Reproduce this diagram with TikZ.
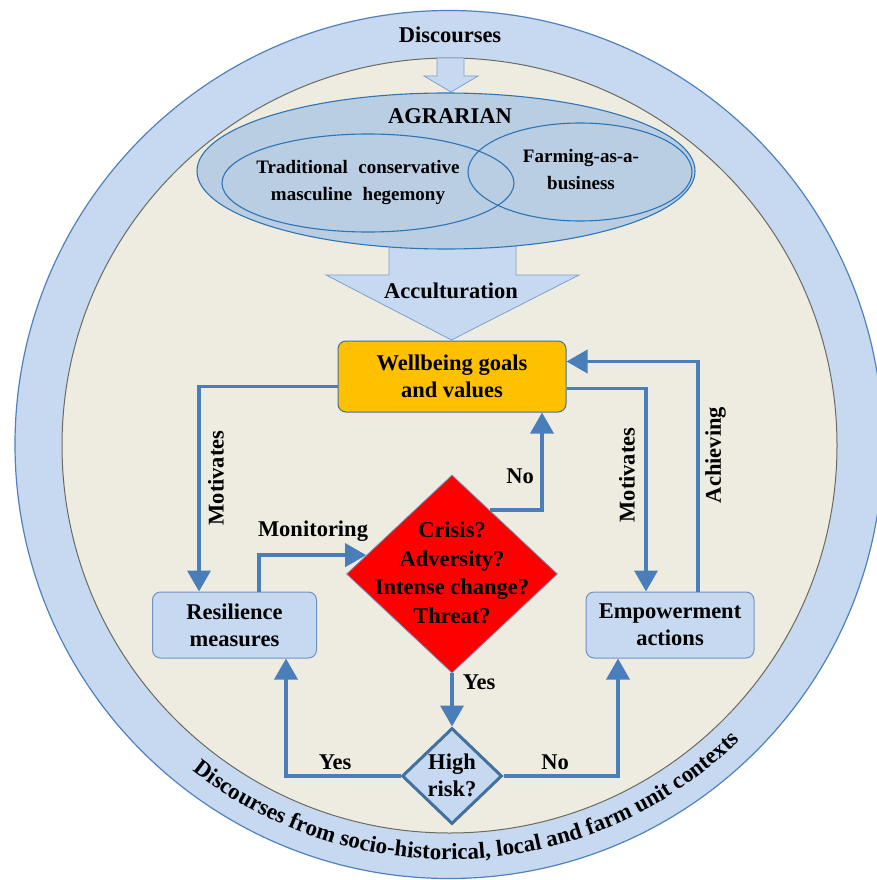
\documentclass[tikz,border=0pt]{standalone}
\usepackage{fontspec}
\setmainfont{Liberation Serif}
\usetikzlibrary{shapes.geometric,arrows.meta,calc,decorations.text}

\definecolor{ringblue}{HTML}{C6D9F1}
\definecolor{ringedge}{HTML}{4F81BD}
\definecolor{beige}{HTML}{EEECE1}
\definecolor{beigeedge}{HTML}{6B6A5E}
\definecolor{ellfill}{HTML}{B9CDE3}
\definecolor{elledge}{HTML}{2E75B6}
\definecolor{arrowedge}{HTML}{7F9FCB}
\definecolor{flowblue}{HTML}{4A7EBB}
\definecolor{wbgold}{HTML}{FFC000}
\definecolor{boxedge}{HTML}{6F93C4}
\definecolor{riskedge}{HTML}{41719C}

\tikzset{
  lbl/.style={font=\fontsize{22.5}{27}\selectfont\bfseries, inner sep=0pt},
  small/.style={font=\fontsize{19}{27}\selectfont\bfseries, inner sep=0pt, align=center},
  box/.style={rounded corners=8pt, draw=boxedge, line width=1pt, fill=ringblue,
    inner sep=0pt, align=center, font=\fontsize{22.5}{27}\selectfont\bfseries},
  flow/.style={draw=flowblue, line width=3.8pt, -{Triangle[width=23pt,length=21pt]}},
  blockarrow/.style={fill=ringblue, draw=arrowedge, line width=0.8pt},
  decision/.style={diamond, inner sep=0pt},
}

\begin{document}
\begin{tikzpicture}[x=1pt,y=-1pt]
\useasboundingbox (0,0) rectangle (877,880);
\clip (0,0) rectangle (877,880);
\fill[white] (0,0) rectangle (877,880);

% outer discourse ring and inner disc
\coordinate (O) at (449,444.5);
\filldraw[fill=ringblue, draw=ringedge, line width=1.2pt] (O) circle[radius=434];
\filldraw[fill=beige, draw=beigeedge, line width=1pt] (449.5,445.5) circle[radius=387.5];

% curved caption in the ring
\path[decorate, decoration={text along path, text align=center,
  text={|\fontsize{23}{23}\selectfont\bfseries|Discourses from socio-historical, local and farm unit contexts}}]
  ($(O)+(136.8:415)$) arc[start angle=136.8, end angle=36.8, radius=415];

\node[lbl] (disc) at (450,35) {Discourses};

% block arrows
\filldraw[blockarrow] (437,58) -- (464,58) -- (464,76) -- (478,76) -- (451,92)
  -- (424,76) -- (437,76) -- cycle;
\filldraw[blockarrow] (389,240) -- (516,240) -- (516,275) -- (579,275) -- (451.5,340)
  -- (326,275) -- (389,275) -- cycle;

% agrarian ellipses
\filldraw[fill=ellfill, draw=elledge, line width=1.1pt] (446,171) ellipse[x radius=249, y radius=78];
\draw[elledge, line width=1.1pt] (368,183) ellipse[x radius=146, y radius=49];
\draw[elledge, line width=1.1pt] (580,172) ellipse[x radius=112, y radius=49];

\node[lbl] (agr) at (450,116) {AGRARIAN};
\node[small] (trad) at (358,183) {Traditional\hspace{0.55em}conservative\\masculine\hspace{0.55em}hegemony};
\node[small] (farm) at (581,170) {Farming-as-a-\\business};
\node[lbl] (acc) at (451,291) {Acculturation};

% flow nodes
\node[box, fill=wbgold, draw=riskedge, minimum width=228pt, minimum height=71pt] (wb) at (452,376.5) {Wellbeing goals\\and values};
\node[box, minimum width=164pt, minimum height=66pt] (res) at (234.5,625) {Resilience\\measures};
\node[box, minimum width=168pt, minimum height=66pt] (emp) at (670,625) {Empowerment\\actions};
\node[decision, fill=red, draw=boxedge, line width=0.8pt, minimum width=211pt, minimum height=198pt] (crisis) at (452,574) {};
\node[lbl, align=center, font=\fontsize{22.5}{28.5}\selectfont\bfseries] (crisistxt) at (452,573) {Crisis?\\Adversity?\\Intense change?\\Threat?};
\node[decision, fill=ringblue, draw=riskedge, line width=3pt, minimum width=100pt, minimum height=96pt] (risk) at (452,776) {};
\node[lbl, align=center] (risktxt) at (452,775.5) {High\\risk?};

% connectors
\draw[flow] ([yshift=-10pt]wb.west) -| ([xshift=-35.5pt]res.north);
\draw[flow] ([yshift=-12pt]wb.east) -| ([xshift=-24pt]emp.north);
\draw[flow] ([xshift=28pt]emp.north) |- ([yshift=15pt]wb.east);
\draw[flow] ($(crisis.north)!0.36!(crisis.east)$) -| ([xshift=90pt]wb.south);
\draw[flow] ([xshift=24.5pt]res.north) |- ($(crisis.west)!0.19!(crisis.north)$);
\draw[flow] (crisis.south) -- (risk.north);
\draw[flow] (risk.west) -| ([xshift=51.5pt]res.south);
\draw[flow] (risk.east) -| ([xshift=-52pt]emp.south);

% connector labels
\node[lbl, rotate=90] (mot1) at (216,478) {Motivates};
\node[lbl, rotate=90] (mot2) at (627,475) {Motivates};
\node[lbl, rotate=90] (ach) at (715.5,455) {Achieving};
\node[lbl] (no1) at (520,476) {No};
\node[lbl] (mon) at (313,531) {Monitoring};
\node[lbl] (yes1) at (479,682.5) {Yes};
\node[lbl] (yes2) at (335,762) {Yes};
\node[lbl] (no2) at (555,762) {No};
\end{tikzpicture}
\end{document}
